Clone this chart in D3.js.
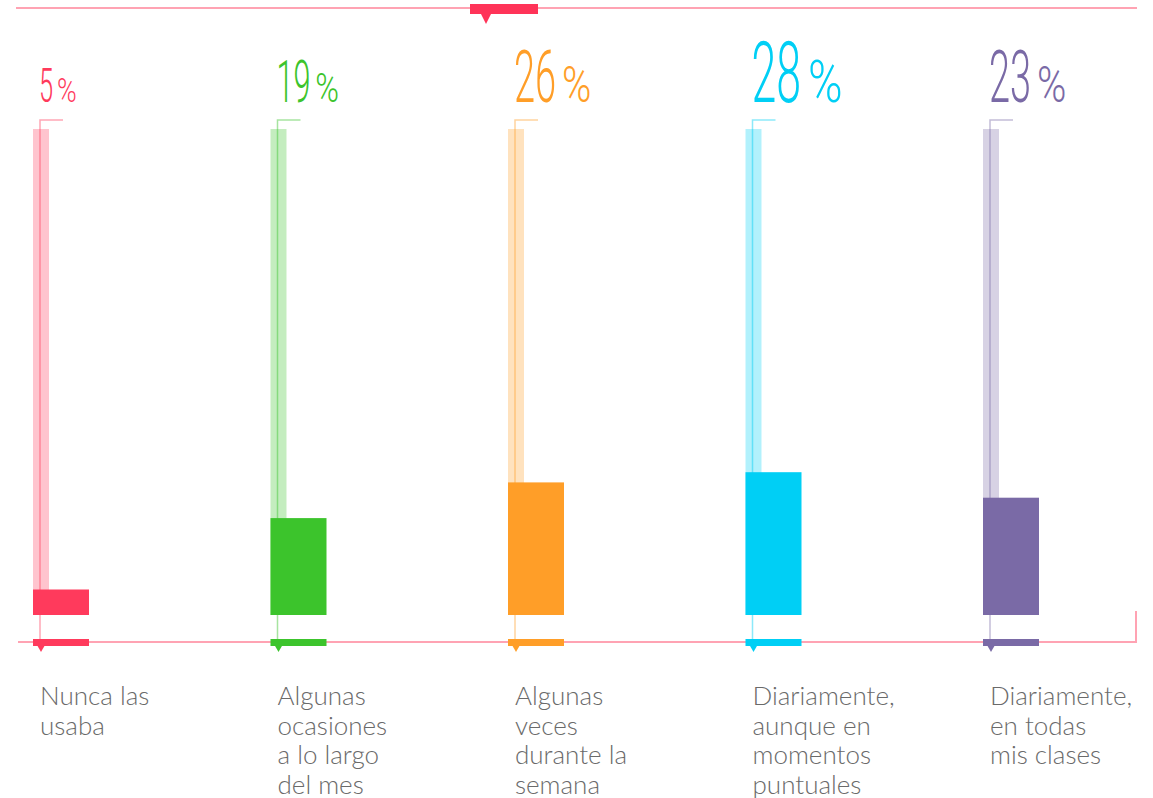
<!DOCTYPE html>
<html>
<head>
<meta charset="utf-8">
<script src="https://cdn.jsdelivr.net/npm/d3@7/dist/d3.min.js"></script>
<style>
  html, body { margin: 0; padding: 0; background: #ffffff; }
  svg { display: block; }
</style>
</head>
<body>
<svg id="chart" width="1153" height="798"></svg>
<script>
// ---- data ----
const categories = [
  ["Nunca las", "usaba"],
  ["Algunas", "ocasiones", "a lo largo", "del mes"],
  ["Algunas", "veces", "durante la", "semana"],
  ["Diariamente,", "aunque en", "momentos", "puntuales"],
  ["Diariamente,", "en todas", "mis clases"]
];
const values = [5, 19, 26, 28, 23];
const colors = ["#ff3a5c", "#3cc42c", "#ff9e28", "#00cff5", "#7a6aa6"];

// ---- layout ----
const W = 1153, H = 798;
const baseY = 615, trackTop = 129, barW = 56, trackW = 16;
const svg = d3.select("#chart");
const keys = d3.range(values.length);

const x = d3.scalePoint().domain(keys).range([33, 983]);
const y = d3.scaleLinear().domain([0, 100]).range([baseY, 105]);
// label size by value
const fsScale = d3.scaleLinear().domain([5, 19, 23, 26, 28]).range([49, 59, 73, 73, 86]);

const lineColor = "#ffa3b3";

// top rule
svg.append("line").attr("x1", 16).attr("x2", 1137).attr("y1", 8).attr("y2", 8)
  .attr("stroke", lineColor).attr("stroke-width", 2);
svg.append("rect").attr("x", 470).attr("y", 4).attr("width", 68).attr("height", 10).attr("fill", "#ff3358");
svg.append("path").attr("d", "M481,14 L491,14 L486,24 Z").attr("fill", "#ff3358");

// bottom rule
svg.append("path").attr("d", "M18,642 H1136 V611").attr("fill", "none")
  .attr("stroke", lineColor).attr("stroke-width", 2);

const g = svg.selectAll("g.cat").data(keys).join("g").attr("class", "cat");

// tracks
g.append("rect")
  .attr("x", i => x(i)).attr("y", trackTop)
  .attr("width", trackW).attr("height", baseY - trackTop)
  .attr("fill", i => colors[i]).attr("opacity", 0.3);

// bracket line
g.append("path")
  .attr("d", i => `M${x(i) + 30},120 H${x(i) + 7} V645`)
  .attr("fill", "none").attr("stroke", i => colors[i])
  .attr("stroke-opacity", 0.45).attr("stroke-width", 1.5);

// bars
g.append("rect")
  .attr("x", i => x(i)).attr("y", i => y(values[i]))
  .attr("width", barW).attr("height", i => baseY - y(values[i]))
  .attr("fill", i => colors[i]);

// bottom markers
g.append("rect")
  .attr("x", i => x(i)).attr("y", 639).attr("width", barW).attr("height", 7)
  .attr("fill", i => colors[i]);
g.append("path")
  .attr("d", i => `M${x(i) + 4},645 L${x(i) + 12},645 L${x(i) + 8},652 Z`)
  .attr("fill", i => colors[i]);

// percentage labels
g.each(function(i) {
  const fs = fsScale(values[i]);
  const grp = d3.select(this).append("g")
    .attr("transform", `translate(${x(i) + 6},${102})`);
  const sx = 0.52;
  const num = grp.append("text")
    .attr("font-family", "Roboto")
    .attr("font-weight", 300)
    .attr("font-size", fs)
    .attr("fill", colors[i])
    .attr("transform", `scale(${sx},1)`)
    .text(values[i]);
  const w = num.node().getComputedTextLength() * sx;
  grp.append("text")
    .attr("font-family", "Roboto")
    .attr("font-weight", 300)
    .attr("font-size", fs * 0.68)
    .attr("fill", colors[i])
    .attr("transform", `translate(${w + fs * 0.08},0) scale(0.8,1)`)
    .text("%");
});

// category labels
g.append("text")
  .attr("font-family", "Lato")
  .attr("font-weight", 300)
  .attr("font-size", 26)
  .attr("fill", "#6a6a6a")
  .selectAll("tspan").data(i => categories[i].map(t => ({t, i})))
  .join("tspan")
  .attr("x", d => x(d.i) + 7)
  .attr("y", (d, k) => 705 + k * 29.5)
  .text(d => d.t);
</script>
</body>
</html>
